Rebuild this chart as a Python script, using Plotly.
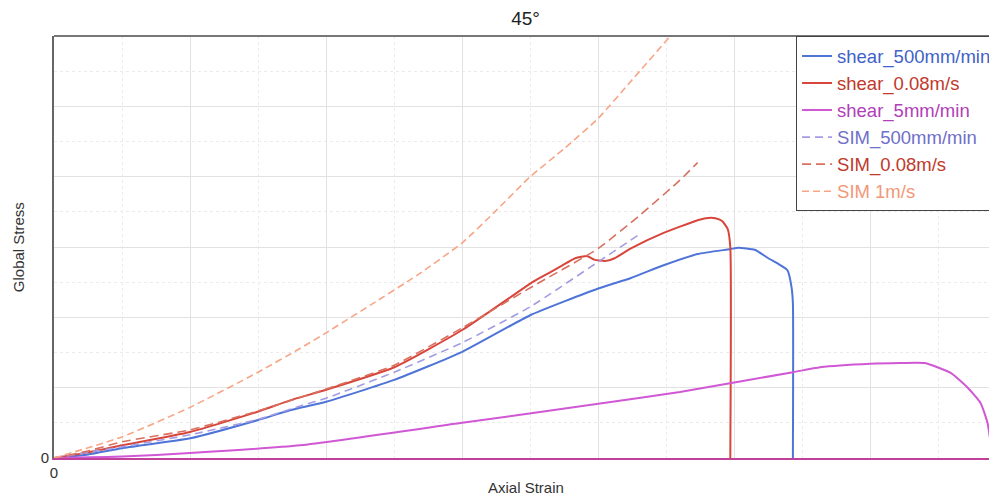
import plotly.graph_objects as go

# ---- data ----
shear_500_x = [0, 0.25, 0.5, 1.0, 1.5, 1.735, 2.0, 2.5, 3.0, 3.5, 4.0, 4.24, 4.48, 4.73, 4.97, 5.03, 5.15, 5.25, 5.34, 5.39, 5.42, 5.43, 5.43]
shear_500_y = [0, 0.05, 0.14, 0.28, 0.54, 0.68, 0.80, 1.11, 1.51, 2.03, 2.41, 2.56, 2.74, 2.90, 2.97, 2.99, 2.96, 2.84, 2.74, 2.67, 2.43, 2.20, 0]

shear_008_x = [0, 0.25, 0.5, 1.0, 1.5, 1.735, 2.0, 2.5, 3.0, 3.5, 3.57, 3.72, 3.83, 3.92, 3.97, 4.05, 4.12, 4.24, 4.48, 4.73, 4.79, 4.86, 4.91, 4.95, 4.97, 4.97]
shear_008_y = [0, 0.08, 0.18, 0.37, 0.66, 0.82, 0.97, 1.29, 1.82, 2.48, 2.56, 2.72, 2.84, 2.87, 2.82, 2.80, 2.84, 2.98, 3.20, 3.38, 3.41, 3.41, 3.37, 3.26, 3.00, 0]

shear_5_x = [0, 0.5, 1.0, 1.81, 3.0, 4.0, 4.6, 5.43, 5.63, 6.0, 6.22, 6.40, 6.59, 6.71, 6.81, 6.86, 6.88, 6.90, 6.93]
shear_5_y = [0, 0.02, 0.07, 0.18, 0.50, 0.77, 0.94, 1.22, 1.29, 1.34, 1.35, 1.35, 1.21, 1.01, 0.78, 0.50, 0.26, 0.02, 0]

sim_500_x = [0, 0.5, 1.0, 1.5, 1.81, 2.0, 2.5, 3.0, 3.5, 4.0, 4.31]
sim_500_y = [0, 0.16, 0.33, 0.55, 0.74, 0.85, 1.22, 1.64, 2.15, 2.79, 3.19]

sim_008_x = [0, 0.25, 0.5, 1.0, 1.5, 2.0, 2.5, 3.0, 3.5, 4.0, 4.31, 4.6, 4.73]
sim_008_y = [0, 0.10, 0.23, 0.40, 0.67, 0.98, 1.32, 1.85, 2.42, 2.98, 3.46, 3.95, 4.20]

sim_1_x = [0, 0.5, 1.0, 1.5, 1.81, 2.0, 2.33, 2.67, 3.0, 3.25, 3.5, 3.75, 4.0, 4.25, 4.53, 4.6]
sim_1_y = [0, 0.30, 0.72, 1.22, 1.56, 1.78, 2.18, 2.60, 3.06, 3.52, 4.0, 4.40, 4.83, 5.38, 6.0, 6.15]

x_ticks = [0, 1, 2, 3, 4, 5, 6]
x_tick_text = ["0", "", "", "", "", "", ""]
y_ticks = [0, 1, 2, 3, 4, 5, 6]
y_tick_text = ["0", "", "", "", "", "", ""]

series = [
    ("shear_500mm/min", shear_500_x, shear_500_y, "#4E74D8", "solid", 2, "#4063C8"),
    ("shear_0.08m/s", shear_008_x, shear_008_y, "#D8453B", "solid", 2, "#C0392B"),
    ("shear_5mm/min", shear_5_x, shear_5_y, "#D058D4", "solid", 2, "#B040B8"),
    ("SIM_500mm/min", sim_500_x, sim_500_y, "#A49CE2", "8px,5px", 1.6, "#7070C8"),
    ("SIM_0.08m/s", sim_008_x, sim_008_y, "#D8705F", "9px,5px", 1.6, "#C0392B"),
    ("SIM 1m/s", sim_1_x, sim_1_y, "#F7A586", "7px,4px", 1.6, "#F29878"),
]

fig = go.Figure()
for name, xs, ys, col, dash, w, tcol in series:
    fig.add_trace(go.Scatter(
        x=xs, y=ys, mode="lines",
        name=f"<span style='color:{tcol}'>{name}</span>",
        line=dict(color=col, width=w, dash=dash, shape="spline", smoothing=0.5),
    ))

# the page body adds an 8px offset; figure size compensates for it
fig.update_layout(
    width=989, height=492,
    margin=dict(l=46, r=0, t=28, b=42, autoexpand=False),
    paper_bgcolor="white", plot_bgcolor="white",
    font=dict(family="Liberation Sans, Arial, sans-serif", color="#333"),
    title=dict(text="45°", x=0.5, xanchor="center", xref="paper",
               y=0.979, yanchor="middle", automargin=False,
               font=dict(size=19, color="#222")),
    showlegend=True,
    legend=dict(x=0.7869, xanchor="left", y=0.999, yanchor="top",
                bgcolor="white", bordercolor="#444", borderwidth=1,
                font=dict(size=18.5), tracegroupgap=0, itemwidth=30),
    shapes=[dict(type="line", xref="paper", yref="paper", x0=0, x1=1, y0=1, y1=1,
                 line=dict(color="#777", width=2))],
    annotations=[
        dict(text="Axial Strain", xref="paper", yref="paper", x=0.5, y=-0.071,
             xanchor="center", yanchor="middle", showarrow=False,
             font=dict(size=15, color="#333")),
        dict(text="Global Stress", xref="paper", yref="paper", x=-0.038, y=0.5,
             xanchor="center", yanchor="middle", textangle=-90, showarrow=False,
             font=dict(size=15, color="#333")),
    ],
)

fig.update_xaxes(
    range=[0, 6.93], tickvals=x_ticks, ticktext=x_tick_text, automargin=False,
    showline=True, linecolor="#C0409A", linewidth=2,
    showgrid=True, gridcolor="#E2E2E2", gridwidth=1,
    minor=dict(dtick=0.5, tick0=0, showgrid=True, gridcolor="#EBEBEB", griddash="dot"),
    zeroline=False, ticks="", tickfont=dict(size=15, color="#333"),
)
fig.update_yaxes(
    range=[0, 6.0], tickvals=y_ticks, ticktext=y_tick_text, automargin=False,
    showline=True, linecolor="#666", linewidth=2,
    showgrid=True, gridcolor="#E2E2E2", gridwidth=1,
    minor=dict(dtick=0.5, tick0=0, showgrid=True, gridcolor="#EBEBEB", griddash="dot"),
    zeroline=False, ticks="", tickfont=dict(size=15, color="#333"),
)

fig.write_html("out.html")
